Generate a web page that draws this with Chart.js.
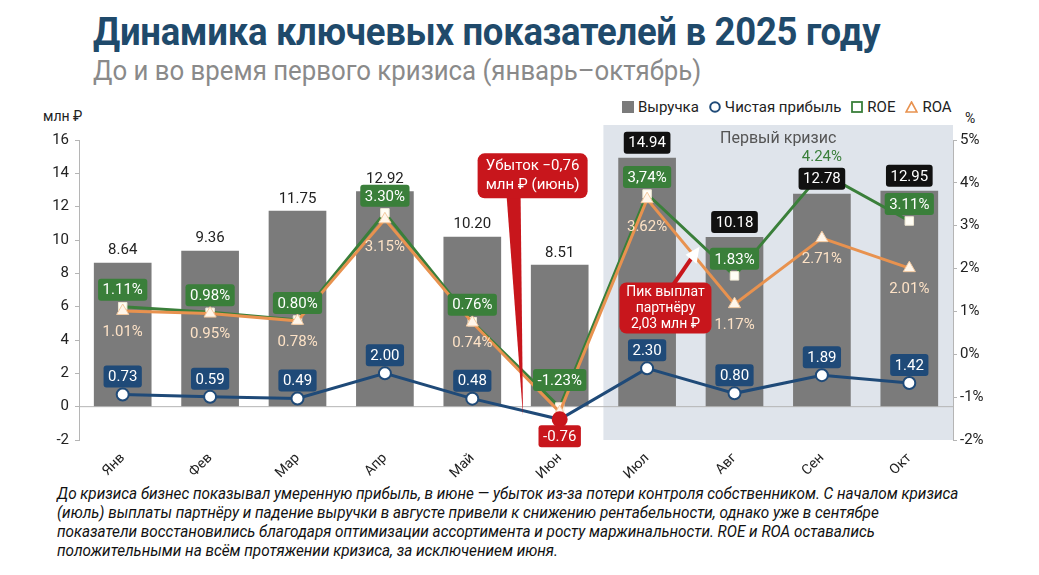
<!DOCTYPE html>
<html lang="ru">
<head>
<meta charset="utf-8">
<script src="https://cdn.jsdelivr.net/npm/chart.js@4.4.1/dist/chart.umd.min.js"></script>
<style>
  html, body { margin: 0; padding: 0; background: #fff; }
  body { width: 1039px; height: 575px; position: relative; overflow: hidden; font-family: Roboto, "Noto Sans", sans-serif; color: #222; }
  #title { position: absolute; left: 93px; top: 10px; font-size: 38px; font-weight: 700; color: #1f4a6b; white-space: nowrap; transform-origin: left top; transform: scaleX(0.96); letter-spacing: -0.3px; }
  #subtitle { position: absolute; left: 93px; top: 55px; font-size: 27px; color: #8a8a8a; white-space: nowrap; transform-origin: left top; transform: scaleX(0.955); }
  #legend { position: absolute; left: 622px; top: 98px; display: flex; align-items: center; font-size: 15px; color: #222; white-space: nowrap; }
  #legend span.item { display: flex; align-items: center; margin-right: 10px; }
  #legend span.item:last-child { margin-right: 0; }
  #legend svg { margin-right: 4px; }
  #unitL { position: absolute; left: 43px; top: 108px; font-size: 14px; }
  #unitR { position: absolute; left: 965px; top: 110px; font-size: 14px; }
  #wrap { position: absolute; left: 0; top: 90px; width: 1039px; height: 390px; }
  #note { position: absolute; left: 57px; top: 484px; font-size: 16px; line-height: 19px; font-style: italic; color: #111; white-space: nowrap; transform-origin: left top; transform: scaleX(0.955); }
</style>
</head>
<body>
<div id="title">Динамика ключевых показателей в 2025 году</div>
<div id="subtitle">До и во время первого кризиса (январь–октябрь)</div>
<div id="legend">
  <span class="item"><svg width="12" height="12"><rect x="0" y="0" width="12" height="12" fill="#7b7b7b"/></svg>Выручка</span>
  <span class="item"><svg width="12" height="12"><circle cx="6" cy="6" r="4.8" fill="#fff" stroke="#1f4a78" stroke-width="2"/></svg>Чистая прибыль</span>
  <span class="item"><svg width="12" height="12"><rect x="1" y="1" width="10" height="10" fill="#fff" stroke="#3a7f3a" stroke-width="1.8"/></svg>ROE</span>
  <span class="item"><svg width="13" height="12"><polygon points="6.5,1 12,11 1,11" fill="#fff" stroke="#e8924f" stroke-width="1.6"/></svg>ROA</span>
</div>
<div id="unitL">млн ₽</div>
<div id="unitR">%</div>
<div id="wrap"><canvas id="chart"></canvas></div>
<div id="note">До кризиса бизнес показывал умеренную прибыль, в июне — убыток из-за потери контроля собственником. С началом кризиса<br>(июль) выплаты партнёру и падение выручки в августе привели к снижению рентабельности, однако уже в сентябре<br>показатели восстановились благодаря оптимизации ассортимента и росту маржинальности. ROE и ROA оставались<br>положительными на всём протяжении кризиса, за исключением июня.</div>

<script>
// данные
const months = ['Янв', 'Фев', 'Мар', 'Апр', 'Май', 'Июн', 'Июл', 'Авг', 'Сен', 'Окт'];
const revenue = [8.64, 9.36, 11.75, 12.92, 10.20, 8.51, 14.94, 10.18, 12.78, 12.95];
const netProfit = [0.73, 0.59, 0.49, 2.00, 0.48, -0.76, 2.30, 0.80, 1.89, 1.42];
const roe = [1.11, 0.98, 0.80, 3.30, 0.76, -1.23, 3.74, 1.83, 4.24, 3.11];
const roa = [1.01, 0.95, 0.78, 3.15, 0.74, -1.35, 3.62, 1.17, 2.71, 2.01];
const roeLabels = ['1.11%', '0.98%', '0.80%', '3.30%', '0.76%', '-1.23%', '3,74%', '1.83%', '4.24%', '3.11%'];
const roaLabels = ['1.01%', '0.95%', '0.78%', '3.15%', '0.74%', '', '3.62%', '1.17%', '2.71%', '2.01%'];
const leftTicks = [-2, 16, 2];
const rightTicks = [-2, 5, 1];
const crisisStart = 6; // июль
const lossMonth = 5;   // июнь

const C = {
    bar: '#7b7b7b',
    profit: '#1f4a78',
    roe: '#3a7f3a',
    roa: '#e8924f',
    red: '#c8161c',
    shade: '#dfe4eb'
};
const FONT = 'Roboto, "Noto Sans", sans-serif';

function box(ctx, x, y, w, h, r, color) {
    ctx.fillStyle = color;
    ctx.beginPath();
    ctx.roundRect(x, y, w, h, r);
    ctx.fill();
}

function tag(ctx, text, x, y, bg, fg) {
    ctx.font = '15px ' + FONT;
    ctx.textAlign = 'center';
    ctx.textBaseline = 'middle';
    if (bg) {
        const w = ctx.measureText(text).width + 9;
        box(ctx, x - w / 2, y - 11, w, 22, 3, bg);
    }
    ctx.fillStyle = fg;
    ctx.fillText(text, x, y + 1);
}

// подложка периода кризиса и нулевая линия
const backPlugin = {
    id: 'back',
    beforeDatasetsDraw(chart) {
        const { ctx, chartArea, scales } = chart;
        const x0 = scales.x.getPixelForValue(crisisStart - 0.5);
        ctx.save();
        ctx.fillStyle = C.shade;
        ctx.fillRect(x0, chartArea.top - 15, chartArea.right - x0, chartArea.bottom - chartArea.top + 15);
        ctx.font = '16px ' + FONT;
        ctx.fillStyle = '#555';
        ctx.textAlign = 'center';
        ctx.textBaseline = 'middle';
        ctx.fillText('Первый кризис', (x0 + chartArea.right) / 2, chartArea.top - 1);
        const y0 = scales.y.getPixelForValue(0);
        ctx.strokeStyle = '#b5b5b5';
        ctx.lineWidth = 1;
        ctx.beginPath();
        ctx.moveTo(chartArea.left, y0);
        ctx.lineTo(chartArea.right, y0);
        ctx.stroke();
        ctx.restore();
    }
};

// подписи значений и выноски
const labelsPlugin = {
    id: 'labels',
    afterDatasetsDraw(chart) {
        const { ctx, scales } = chart;
        const bars = chart.getDatasetMeta(0).data;
        const pp = chart.getDatasetMeta(1).data;
        const pe = chart.getDatasetMeta(2).data;
        const pa = chart.getDatasetMeta(3).data;
        ctx.save();

        bars.forEach((b, i) => {
            if (i >= crisisStart) tag(ctx, revenue[i].toFixed(2), b.x, b.y - 15, '#111', '#fff');
            else tag(ctx, revenue[i].toFixed(2), b.x, b.y - 13, null, '#222');
        });

        pa.forEach((p, i) => {
            if (!roaLabels[i]) return;
            const off = (i === 3 || i === 6) ? 27 : 20;
            tag(ctx, roaLabels[i], p.x, p.y + off, null, '#fde2c6');
        });

        pe.forEach((p, i) => {
            if (i === 8) { tag(ctx, roeLabels[i], p.x, p.y - 16, null, C.roe); return; }
            const off = i === lossMonth ? 27 : 17;
            tag(ctx, roeLabels[i], p.x, p.y - off, C.roe, '#fff');
        });

        pp.forEach((p, i) => {
            if (i === lossMonth) tag(ctx, netProfit[i].toFixed(2), p.x, p.y + 17, C.red, '#fff');
            else tag(ctx, netProfit[i].toFixed(2), p.x, p.y - 18, C.profit, '#fff');
        });

        // выноска «Убыток»
        const x = scales.x, y = scales.y;
        const bx = x.getPixelForValue(lossMonth - 0.31);
        const by = y.getPixelForValue(15.2);
        const bw = 110, bh = 45;
        const tipX = x.getPixelForValue(lossMonth - 0.42);
        const tipY = y.getPixelForValue(-0.55);
        ctx.fillStyle = C.red;
        ctx.beginPath();
        ctx.moveTo(bx - 26, by + bh - 2);
        ctx.lineTo(bx - 12, by + bh - 2);
        ctx.lineTo(tipX, tipY);
        ctx.closePath();
        ctx.fill();
        box(ctx, bx - bw / 2, by, bw, bh, 7, C.red);
        ctx.fillStyle = '#fff';
        ctx.font = '15px ' + FONT;
        ctx.textAlign = 'center';
        ctx.textBaseline = 'middle';
        ctx.fillText('Убыток −0,76', bx, by + 13);
        ctx.fillText('млн ₽ (июнь)', bx, by + 32);

        // выноска «Пик выплат»
        const cx = x.getPixelForValue(crisisStart + 0.21);
        const cy = y.getPixelForValue(7.45);
        const cw = 92, ch = 51;
        const ax = x.getPixelForValue(crisisStart + 0.6);
        const ay = y.getPixelForValue(9.6);
        ctx.strokeStyle = C.red;
        ctx.lineWidth = 4;
        ctx.beginPath();
        ctx.moveTo(cx + 8, cy + 2);
        ctx.lineTo(ax - 7, ay + 10);
        ctx.stroke();
        ctx.beginPath();
        ctx.moveTo(ax, ay);
        ctx.lineTo(ax - 14, ay + 8);
        ctx.lineTo(ax - 3, ay + 17);
        ctx.closePath();
        ctx.fill();
        box(ctx, cx - cw / 2, cy, cw, ch, 7, C.red);
        ctx.fillStyle = '#fff';
        ctx.font = '14px ' + FONT;
        ctx.fillText('Пик выплат', cx, cy + 10);
        ctx.fillText('партнёру', cx, cy + 26);
        ctx.fillText('2,03 млн ₽', cx, cy + 42);

        ctx.restore();
    }
};

const ctx = document.getElementById('chart').getContext('2d');
new Chart(ctx, {
    data: {
        labels: months,
        datasets: [
            {
                type: 'bar',
                label: 'Выручка',
                data: revenue,
                backgroundColor: C.bar,
                barPercentage: 0.66,
                categoryPercentage: 1.0,
                yAxisID: 'y',
                order: 4
            },
            {
                type: 'line',
                label: 'Чистая прибыль',
                data: netProfit,
                borderColor: C.profit,
                borderWidth: 3,
                pointStyle: 'circle',
                pointRadius: months.map((m, i) => i === lossMonth ? 7 : 6),
                pointBackgroundColor: months.map((m, i) => i === lossMonth ? C.red : '#fff'),
                pointBorderColor: months.map((m, i) => i === lossMonth ? C.red : C.profit),
                pointBorderWidth: 2,
                yAxisID: 'y',
                order: 1
            },
            {
                type: 'line',
                label: 'ROE',
                data: roe,
                borderColor: C.roe,
                borderWidth: 3,
                pointStyle: 'rect',
                pointRadius: 6,
                pointBackgroundColor: '#fffdf5',
                pointBorderColor: '#efe8d4',
                pointBorderWidth: 1,
                yAxisID: 'y1',
                order: 3
            },
            {
                type: 'line',
                label: 'ROA',
                data: roa,
                borderColor: C.roa,
                borderWidth: 3,
                pointStyle: 'triangle',
                pointRadius: 7,
                pointBackgroundColor: '#fff6ea',
                pointBorderColor: '#f3c9a0',
                pointBorderWidth: 1,
                yAxisID: 'y1',
                order: 2
            }
        ]
    },
    options: {
        responsive: true,
        maintainAspectRatio: false,
        animation: false,
        layout: { padding: { top: 50, left: 0, right: 0, bottom: 0 } },
        plugins: {
            legend: { display: false },
            tooltip: { enabled: false }
        },
        scales: {
            x: {
                grid: { display: false },
                border: { display: false },
                ticks: {
                    color: '#222',
                    font: { size: 14, family: FONT },
                    maxRotation: 45,
                    minRotation: 45,
                    padding: 2
                },
                afterFit: s => { s.height = 40; }
            },
            y: {
                position: 'left',
                min: leftTicks[0],
                max: leftTicks[1],
                ticks: { stepSize: leftTicks[2], color: '#222', font: { size: 15, family: FONT }, padding: 6 },
                grid: { drawOnChartArea: false, drawTicks: true, tickLength: 4, color: '#b5b5b5' },
                border: { display: true, color: '#b5b5b5' },
                afterFit: s => { s.width = 79; }
            },
            y1: {
                position: 'right',
                min: rightTicks[0],
                max: rightTicks[1],
                ticks: { stepSize: rightTicks[2], color: '#222', font: { size: 15, family: FONT }, padding: 3, callback: v => v + '%' },
                grid: { drawOnChartArea: false, drawTicks: true, tickLength: 4, color: '#b5b5b5' },
                border: { display: true, color: '#b5b5b5' },
                afterFit: s => { s.width = 86; }
            }
        }
    },
    plugins: [backPlugin, labelsPlugin]
});
</script>
</body>
</html>
